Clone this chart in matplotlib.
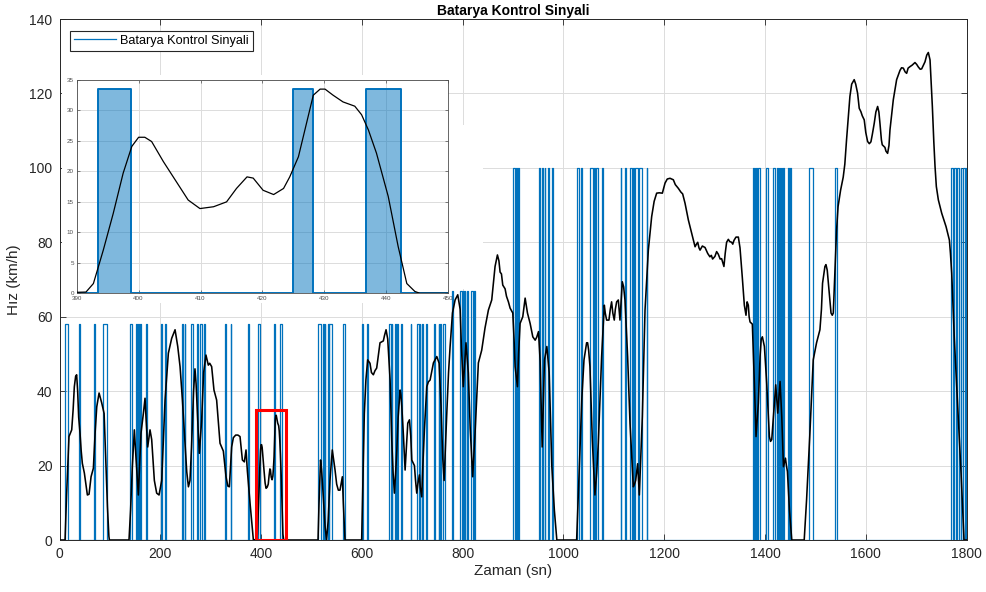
import matplotlib
matplotlib.use("Agg")
import matplotlib.pyplot as plt
from matplotlib.patches import Rectangle

plt.rcParams["font.family"] = ["Liberation Sans", "DejaVu Sans"]

# ---- speed profile (s, km/h) ----
time_s = [
    0, 11, 14, 18.8, 24.2, 27, 29.4, 32, 34, 36, 38, 40.7, 43, 45.3, 49.3, 52, 55.3, 58.6,
    62.6, 67.2, 70.6, 73.9, 78.5, 83.8, 88.5, 91.8, 95.1, 98, 99,
    137.9, 141, 144.5, 148.5, 151.8, 156.4, 161.7, 166.4, 169.7, 172, 175, 179.6, 182.9,
    188.2, 192.8, 197.5, 202.8, 209.4, 216, 222.6, 229.3, 234.6, 239.2, 243.9, 249.2,
    252.5, 255.8, 258.9, 262, 266, 268.8, 271, 275, 277.5, 282, 286, 290.6, 295.3, 298,
    301.9, 306.5, 311.8, 315, 318.5, 325.1, 330.4, 334, 337, 341.6, 345, 349.6, 354,
    358.2, 362.9, 366.8, 370.1, 372.8, 378.1, 384.7,
    391.5, 392.7, 393.2, 394.3, 395.9, 397.5, 398.9, 400, 401, 402.1, 404, 405.9, 408,
    409.9, 412.1, 414.2, 415.8, 417.5, 418.5, 420.1, 421.8, 423.4, 424.4, 425.8, 427.1,
    428.2, 429.3, 430.1, 431.4, 433, 434.9, 436, 437.1, 438.4, 440.3, 441.9, 443.3,
    444.6, 445.4,
    513, 515, 518, 520, 523.3, 527, 530, 533, 536.7, 541.3, 546.6, 550, 553.3, 556.6,
    561.3, 563.2, 566.5,
    599.6, 602, 604.9, 608, 611.5, 616.1, 619, 622.8, 626, 629.4, 633, 636, 642.6, 645,
    648, 651.3, 656, 659.3, 662, 664.6, 667, 669.3, 672, 675.9, 677.5, 679.2, 682.5,
    685.8, 688, 691.1, 694.4, 697, 699, 704.3, 706.5, 708.9, 711, 714.2, 716, 718.8, 721,
    724.1, 728.8, 732, 735.4, 742, 748.7, 753.3, 757.2, 760.5, 763.2, 768.5, 772, 775.1,
    779.8, 785, 790.3, 795, 797.5, 801.2, 806.6, 809, 811.3, 815, 819.9, 824.6, 831.2,
    837.8, 844.4, 851.1, 857.7, 861, 864.3, 869, 872, 874.3, 877, 879.6, 884.2, 887,
    890.8, 894.2, 899.5, 902, 904.1, 908.7, 911, 914, 919.3, 924, 928.6, 933.9, 939.2,
    943.9, 947, 950.5, 953.8, 957.8, 962.4, 967.1, 971.7, 977, 982, 986.9,
    1026.2, 1029, 1032.8, 1036.5, 1040.8, 1046, 1048, 1050, 1052.6, 1057.3, 1062.5, 1066,
    1069.2, 1075.8, 1081.1, 1083, 1085.7, 1090.3, 1093, 1095.6, 1098, 1100.9, 1103,
    1105.6, 1108.9, 1112.2, 1114, 1116.8, 1119.5, 1122.1, 1127.4, 1132.1, 1138.7, 1141,
    1143.3, 1147.3, 1150.6, 1153.5, 1156.6, 1161.9, 1168.5, 1175.1, 1180, 1185, 1190,
    1196.3, 1201.6, 1206, 1211.5, 1218.1, 1222, 1228, 1233, 1236.6, 1241.3, 1247.9,
    1254.5, 1261.2, 1264, 1266.5, 1269, 1271.1, 1275.7, 1281, 1286.3, 1290.7, 1293.5,
    1296, 1300.6, 1304, 1307.3, 1311, 1313.9, 1318.5, 1321, 1323.8, 1327.2, 1330, 1333.8,
    1336, 1338.4, 1342.4, 1347.1, 1350.4, 1355, 1359, 1362.3, 1364.5, 1366.9, 1368.5,
    1370.3, 1374.9, 1378.9, 1382.2, 1386.8, 1390.2, 1392.5, 1394.8, 1398.8, 1403.4,
    1408.7, 1411, 1413.4, 1416.7, 1421.3, 1425.3, 1429.9, 1433.3, 1436.6, 1440.6, 1442.5,
    1444.5, 1448.5, 1453.1,
    1477.8, 1482.5, 1489.1, 1495.7, 1502.3, 1509, 1512, 1514.2, 1518.9, 1521, 1523.5,
    1528.8, 1531, 1533.5, 1535.5, 1538.7, 1541.9, 1545, 1550, 1555.2, 1558.4, 1561.8,
    1568.5, 1572, 1577, 1580, 1583.7, 1587, 1590.3, 1593, 1596.9, 1600, 1603.6, 1607,
    1610.2, 1613, 1616.8, 1620, 1623.5, 1626, 1628.1, 1631, 1632.7, 1638, 1640, 1643.3,
    1646, 1648, 1651, 1654.6, 1661.2, 1667.9, 1671, 1674.5, 1678, 1681.1, 1684, 1687.7,
    1692, 1697.6, 1701, 1704.3, 1708, 1710.9, 1714, 1717.5, 1721, 1724.1, 1727.5, 1730,
    1732.1, 1735, 1737.4, 1740, 1744, 1750.7, 1755, 1759.3, 1765.9, 1768, 1770.5,
    1775.8, 1782.4, 1789.1, 1795, 1800,
]
speed_kmh = [
    0, 0, 12, 27.8, 29.6, 35, 41.2, 44, 44.4, 40, 33, 28.7, 24, 20.6, 18, 15.3, 12.1, 12.3,
    17, 19.3, 28.7, 35.8, 39.5, 36.8, 34, 21.5, 9, 1, 0,
    0, 8, 19.7, 29.6, 22, 12.1, 28.7, 34, 38.1, 32, 25, 29.6, 27,
    16, 12.6, 12.1, 16, 37.6, 50.2, 54.2, 56.5, 52, 46.6, 37.6, 26,
    18.3, 14.3, 16, 25, 40, 46, 42, 30, 23.3, 32, 45, 49.7, 47, 47.5,
    46.6, 40.3, 37.6, 32, 26, 23.9, 17, 14.5, 14.3, 25, 27.5, 28.2, 28.2,
    27.8, 21.5, 21, 24.2, 18.5, 9.9, 0,
    0.2, 1.6, 3.3, 7.1, 13.1, 19.7, 24.1, 25.6, 25.6, 24.9, 21.6, 18.6, 15.3,
    13.9, 14.2, 15, 17.2, 19.1, 18.9, 16.9, 16.2, 17.2, 19.1, 22.4, 27.9,
    32.5, 33.5, 33.5, 32.5, 31.4, 30.7, 29.3, 26.8, 23, 15.9, 7.7, 1.6,
    0.3, 0,
    0, 10, 21.5, 19, 12, 3.6, 0, 5, 16, 24.2, 19, 15, 13.4, 13.4,
    17, 10, 0,
    0, 15, 34, 43, 48.4, 47.5, 45, 44.4, 45.5, 46.2, 50, 53, 53.5, 55,
    56.5, 54, 43, 26.9, 18, 12.6, 18, 24, 33, 40.3, 39, 36, 28,
    18.8, 24, 31.4, 32.3, 28, 21.5, 20, 16, 12.6, 15, 17.5, 14, 11.6, 20,
    29.6, 41.2, 42.5, 43, 47.6, 49.3, 47.5, 35.8, 22, 16, 34, 45, 52,
    61, 64.5, 65.9, 62, 52, 41.2, 53, 49, 44.9, 30, 17, 28.7, 47.6,
    51, 57, 61.8, 64.5, 69, 73.5, 76.6, 75, 72, 71.5, 68.5, 67.5, 65.5,
    64, 62.3, 61, 54, 46.6, 41.2, 50, 58.2, 60, 65, 61, 58.2, 54.6,
    53.7, 54.5, 56, 48, 25, 48.4, 52, 45, 19.7, 8, 0,
    0, 10, 24.2, 38, 48.4, 53, 53, 51, 46.6, 26.9, 12.1, 18,
    26, 49.3, 63.1, 61, 59.1, 59.1, 62, 64, 61, 59.1, 62,
    64, 64.5, 59.1, 63, 69.4, 68, 64.5, 49.3, 31.4, 14.3, 15,
    16, 20.5, 12.1, 22, 33.2, 61.8, 77.9, 86.9, 91, 93.2, 93.3,
    93.2, 95.9, 97, 97.2, 96.8, 95.5, 94.5, 93.5, 93, 90.5, 86,
    82.4, 78.8, 79.5, 80, 78.5, 77.9, 79, 78.6, 77, 76.1, 76.5,
    75.5, 76.2, 77.5, 76.8, 75.5, 75.6, 73.5, 77, 80, 80.8, 80.2, 80,
    79.5, 80.5, 81.4, 81.4, 78.5, 70.5, 63.1, 60.4, 64, 63.1, 60,
    58.6, 58, 42.1, 27.8, 36.8, 49.3, 54, 54.6, 52, 42.1,
    27.8, 26.5, 27, 33.2, 41.7, 34.1, 42.6, 33, 19.7, 22, 20,
    18.4, 8.1, 0,
    0, 10.8, 28.7, 48.4, 53, 56.5, 62, 69, 73.5, 74, 72.5,
    64.5, 61, 60.4, 61, 72, 83, 89.6, 94, 97.5, 101, 107.5,
    119.2, 122.5, 123.7, 122.5, 120.1, 116, 115.1, 114, 112.9, 109.5, 107.1, 106.5,
    107, 109, 112, 115, 116.5, 115, 112, 107.5, 106.2, 105.5, 104.5, 103.9,
    106, 110.2, 114, 118.3, 123.7, 126.2, 126.9, 126.8, 125.8, 125.4, 126.8, 127.2,
    127.6, 128.3, 127.8, 127.1, 126.5, 126.6, 127.5, 128.5, 130.3, 131, 129, 122,
    116.5, 107, 100.4, 95, 91.4, 87.8, 86, 84.2, 80.6, 77, 71.7,
    53.8, 35.8, 17.9, 0, 0,
]

# ---- battery control signal: (on, off) intervals grouped by output level ----
level_low, level_mid, level_high = 58, 67, 100
pulses_low = [
    (11, 17.5), (39, 41), (68.5, 70), (87, 93.5), (139.5, 143), (152, 153.5),
    (156, 157.5), (160, 161.5), (172, 174), (202, 204), (208.5, 210.5), (244, 246),
    (249, 250), (261, 265.5), (272, 274), (278.5, 283), (286.5, 289), (328, 329.5),
    (339.5, 341), (374, 375.5), (393.5, 398.7), (425, 428.2), (436.7, 442.3),
    (513.5, 518.3), (523, 524), (526.5, 527.5), (533, 534), (535.5, 540),
    (563.5, 566.5), (600.5, 603), (611, 612), (653.5, 657.5), (659, 660),
    (665.5, 667), (670.5, 672.5), (678.5, 680.5), (697, 698), (709, 713.5),
    (715, 716), (718.5, 720.5), (726.5, 728.5), (743.5, 745), (752.5, 753.5),
    (756, 757), (761.5, 765),
]
pulses_mid = [
    (778, 780), (794.5, 798), (801, 802), (804.5, 805.5), (809, 811),
    (817.5, 820), (822, 824.5),
]
pulses_high = [
    (899, 904), (906, 907), (909, 912), (951.5, 953), (956.5, 959), (963, 964),
    (969.5, 970.5), (978, 979), (1026, 1031.5), (1035.5, 1036.5), (1052.5, 1059.5),
    (1061.5, 1062.5), (1065.5, 1069), (1077.5, 1079), (1113.5, 1114.5), (1123, 1124),
    (1133, 1135.5), (1138.5, 1139.5), (1143, 1147), (1150.5, 1155), (1165, 1166.5),
    (1376.5, 1378), (1379.5, 1380.5), (1383, 1384), (1386, 1390), (1402.5, 1406.5),
    (1416, 1419), (1424, 1425), (1427.5, 1428.5), (1429.5, 1430.5), (1431.5, 1432.5),
    (1433.5, 1434.5), (1435.5, 1437.5), (1446.5, 1447.5), (1450, 1451),
    (1488, 1495.5), (1538.5, 1543.5), (1770, 1773.5), (1775, 1778.5), (1782, 1785),
    (1788.5, 1789.5), (1793, 1797), (1799, 1800),
]
inset_level = 33.5

x_ticks = list(range(0, 1801, 200))
y_ticks = list(range(0, 141, 20))
inset_x_ticks = list(range(390, 451, 10))
inset_y_ticks = list(range(0, 36, 5))
zoom_window = (390, 450, 0, 35)

BLUE = "#0072BD"
DARK = "#262626"
GRID = "#DCDCDC"


def step_signal(groups, scale=None):
    """Build a rectangular step trace from (on, off) intervals."""
    events = []
    for level, pulses in groups:
        for on, off in pulses:
            events.append((on, off, level if scale is None else scale))
    events.sort()
    ts, vs = [0.0], [0.0]
    for on, off, lev in events:
        ts += [on, on, off, off]
        vs += [0, lev, lev, 0]
    ts.append(1800.0)
    vs.append(0.0)
    return ts, vs


groups = [(level_low, pulses_low), (level_mid, pulses_mid), (level_high, pulses_high)]
sig_t, sig_v = step_signal(groups)
sig_t_in, sig_v_in = step_signal(groups, scale=inset_level)

fig = plt.figure(figsize=(9.87, 5.92), dpi=100)
ax = fig.add_axes([0.0603, 0.0878, 0.9190, 0.8801])

ax.plot(sig_t, sig_v, color=BLUE, lw=0.9, label="Batarya Kontrol Sinyali", zorder=2)
ax.plot(time_s, speed_kmh, color="black", lw=1.15, zorder=3)
x0, x1, y0, y1 = zoom_window
ax.add_patch(Rectangle((x0, y0), x1 - x0, y1 - y0, fill=False,
                       edgecolor="#FF0000", lw=2.2, zorder=4))

ax.set_xlim(0, 1800)
ax.set_ylim(0, 140)
ax.set_xticks(x_ticks)
ax.set_yticks(y_ticks)
ax.grid(True, color=GRID, lw=0.7)
ax.set_axisbelow(True)
ax.tick_params(direction="in", top=True, right=True, length=4.5, width=0.6,
               labelsize=10, colors=DARK, pad=5)
for sp in ax.spines.values():
    sp.set_color(DARK)
    sp.set_linewidth(0.7)
ax.set_xlabel("Zaman (sn)", fontsize=11, color=DARK, labelpad=2)
ax.set_ylabel("Hız (km/h)", fontsize=11, color=DARK, labelpad=6)
ax.set_title("Batarya Kontrol Sinyali", fontsize=10, fontweight="bold", pad=3)

leg = ax.legend(loc="upper left", bbox_to_anchor=(0.0118, 0.977), borderaxespad=0,
                fontsize=9.2, fancybox=False, framealpha=1, edgecolor="#262626",
                handlelength=3.3, borderpad=0.3, handletextpad=0.3)
leg.get_frame().set_linewidth(0.8)

# white backdrop behind the magnified view
W, H = 987.0, 592.0
for (px0, py0, px1, py1) in [(62, 75, 448, 303), (448, 125, 483, 289)]:
    fig.add_artist(Rectangle((px0 / W, 1 - py1 / H), (px1 - px0) / W, (py1 - py0) / H,
                             transform=fig.transFigure, facecolor="white",
                             edgecolor="none", zorder=1))

# magnified view of the marked window
axi = fig.add_axes([0.0777, 0.5046, 0.3765, 0.3603])
axi.set_zorder(2)
axi.fill_between(sig_t_in, sig_v_in, 0, color=BLUE, alpha=0.5, lw=0, zorder=2)
axi.plot(sig_t_in, sig_v_in, color=BLUE, lw=1.4, zorder=3)
axi.plot(time_s, speed_kmh, color="black", lw=0.9, zorder=4)
axi.set_xlim(x0, x1)
axi.set_ylim(y0, y1)
axi.set_xticks(inset_x_ticks)
axi.set_yticks(inset_y_ticks)
axi.grid(True, color=GRID, lw=0.7)
axi.set_axisbelow(True)
axi.tick_params(direction="in", top=True, right=True, length=2.5, width=0.5,
                labelsize=4.5, colors="#4D4D4D", pad=2)
for sp in axi.spines.values():
    sp.set_color("#4D4D4D")
    sp.set_linewidth(0.6)

fig.savefig("out.png", dpi=100)
